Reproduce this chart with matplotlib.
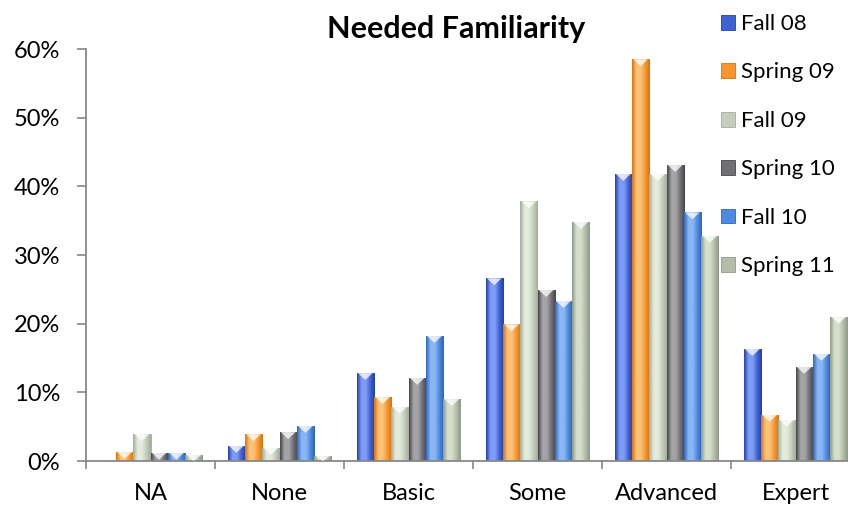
import numpy as np
import matplotlib
matplotlib.use("Agg")
import matplotlib.pyplot as plt
from matplotlib.colors import LinearSegmentedColormap
from matplotlib.patches import Patch, Polygon

plt.rcParams['font.family'] = ['Lato', 'DejaVu Sans']

categories = ["NA", "None", "Basic", "Some", "Advanced", "Expert"]
series_names = ["Fall 08", "Spring 09", "Fall 09", "Spring 10", "Fall 10", "Spring 11"]
fall08 = [0.0, 2.2, 12.8, 26.6, 41.8, 16.3]
spring09 = [1.3, 3.9, 9.3, 19.9, 58.5, 6.7]
fall09 = [3.9, 1.9, 7.9, 37.8, 41.8, 6.0]
spring10 = [1.2, 4.2, 12.1, 24.9, 43.1, 13.7]
fall10 = [1.2, 5.1, 18.2, 23.3, 36.2, 15.6]
spring11 = [0.9, 0.7, 9.0, 34.8, 32.8, 21.0]
series_values = [fall08, spring09, fall09, spring10, fall10, spring11]
yticks = [0, 10, 20, 30, 40, 50, 60]
ytick_labels = ["0%", "10%", "20%", "30%", "40%", "50%", "60%"]

# (base, light, dark)
palette = [
    ("#3f62d2", "#7f9cf5", "#2340a8"),
    ("#f7962e", "#fcc27a", "#d9730c"),
    ("#c5cebb", "#e4eadc", "#a3ad98"),
    ("#707074", "#a4a4a8", "#46464a"),
    ("#4e8ae0", "#8ab6f4", "#2c66bc"),
    ("#b2bea8", "#d6dfcd", "#8e9a86"),
]

fig = plt.figure(figsize=(8.48, 5.05), dpi=100)
ax = fig.add_axes([86 / 848, 44 / 505, 774 / 848, 412 / 505])

n = len(series_names)
bw = 0.134
x = np.arange(len(categories))
grad = np.linspace(0, 1, 64).reshape(1, -1)

for k, (vals, (base, light, dark)) in enumerate(zip(series_values, palette)):
    offs = x + (k - (n - 1) / 2) * bw
    bars = ax.bar(offs, vals, width=bw, color=base, edgecolor=dark,
                  linewidth=0.6, zorder=2)
    cmap = LinearSegmentedColormap.from_list(
        f"g{k}", [dark, light, light, base, dark])
    for b in bars:
        h = b.get_height()
        if h <= 0:
            continue
        x0 = b.get_x()
        x1 = x0 + b.get_width()
        im = ax.imshow(grad, extent=[x0, x1, 0, h], aspect='auto',
                       cmap=cmap, zorder=2.5, interpolation='bilinear')
        im.set_clip_path(b)
        d = min(1.0, h)
        tri = Polygon([[x0 + 0.01, h], [x1 - 0.01, h], [(x0 + x1) / 2, h - d]],
                      closed=True, facecolor="white", alpha=0.75,
                      edgecolor="none", zorder=3)
        ax.add_patch(tri)

ax.set_xlim(-0.5, len(categories) - 0.5)
ax.set_ylim(0, 60)
ax.set_yticks(yticks)
ax.set_yticklabels(ytick_labels, fontsize=17)
ax.set_xticks(x)
ax.set_xticklabels(categories, fontsize=17)
ax.set_xticks(np.arange(len(categories) + 1) - 0.5, minor=True)
ax.tick_params(axis='x', which='major', length=0, pad=16)
ax.tick_params(axis='x', which='minor', length=6, width=1.2, color="#888888",
               direction='out')
ax.tick_params(axis='y', length=6.5, width=1.2, color="#888888", pad=12)
for s in ["top", "right"]:
    ax.spines[s].set_visible(False)
for s in ["left", "bottom"]:
    ax.spines[s].set_color("#888888")
    ax.spines[s].set_linewidth(1.3)

fig.text(456 / 848, 1 - 38 / 505, "Needed Familiarity", fontsize=22,
         fontweight='bold', ha='center', va='baseline')

handles = [Patch(facecolor=p[0], edgecolor=p[2], linewidth=0.6) for p in palette]
fig.legend(handles, series_names, loc='upper left',
           bbox_to_anchor=(721 / 848, 1 - 14 / 505), frameon=False,
           fontsize=16, handlelength=0.65, handleheight=0.65,
           handletextpad=0.25, labelspacing=1.28, borderaxespad=0,
           borderpad=0)

fig.savefig("out.png", dpi=100)
